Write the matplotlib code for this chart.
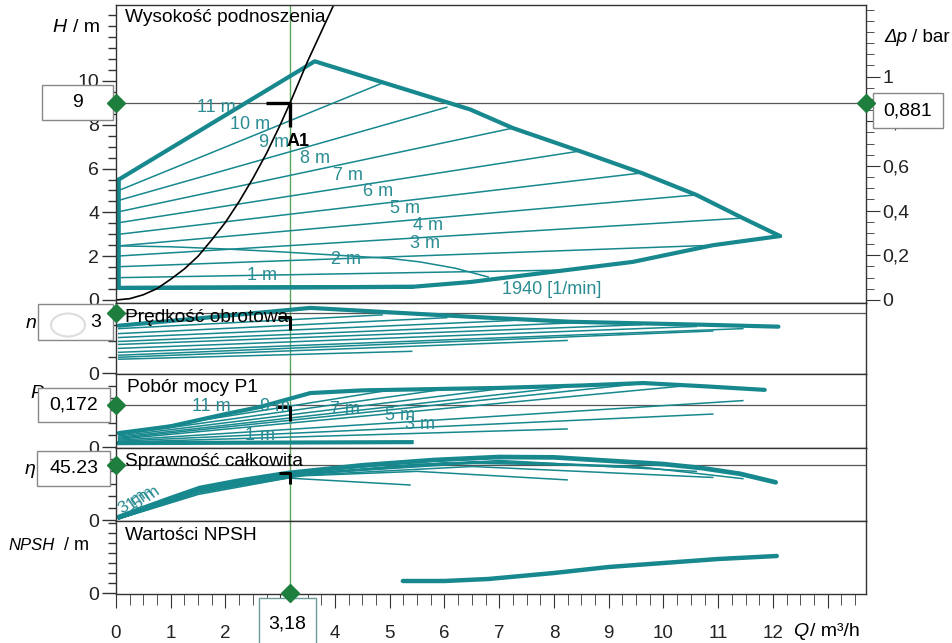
import matplotlib
matplotlib.use("Agg")
import matplotlib.pyplot as plt
import matplotlib.ticker as mticker
from matplotlib.lines import Line2D
from matplotlib.patches import Rectangle, Circle
from matplotlib.path import Path

plt.rcParams["font.family"] = ["Liberation Sans", "DejaVu Sans"]

W, H = 953, 643
TEAL = "#17888e"
LABEL_TEAL = "#2b8d93"
GREEN = "#5aa55a"
DIAMOND = "#1e7e3e"
FRAME = "#333333"
REF = "#555555"

# operating point A1
q_op = 3.18
h_op = 9
dp_op = 0.881
n_op = 8600
p1_op = 0.172
eta_op = 45.23

# --- head panel ---
q_max = [0.05, 3.63, 6.47, 7.25, 8.47, 9.6, 10.6, 11.45, 12.13]
h_max = [5.5, 10.9, 8.7, 7.85, 6.8, 5.8, 4.8, 3.74, 2.92]
q_low = [12.13, 10.9, 9.44, 8.24, 6.47, 5.4, 0.05, 0.05]
h_low = [2.92, 2.5, 1.74, 1.37, 0.82, 0.6, 0.55, 5.5]

speed_labels = ["10 m", "9 m", "8 m", "7 m", "6 m", "5 m", "4 m", "3 m", "2 m", "1 m"]
q_end = [4.86, 6.04, 7.25, 8.47, 9.6, 10.6, 11.45, 10.9, 8.24, 5.4]
h_start = [5.0, 4.55, 4.03, 3.53, 3.0, 2.47, 2.01, 1.52, 1.02, 0.55]
h_end = [9.9, 8.8, 7.85, 6.8, 5.8, 4.8, 3.74, 2.5, 1.37, 0.6]

q_nmin = [0.05, 1, 2, 3, 4, 5, 5.55, 6.2, 6.8]
h_nmin = [2.47, 2.43, 2.33, 2.2, 2.05, 1.9, 1.74, 1.45, 1.05]

sys_q = [0, 0.25, 0.5, 0.75, 1.0, 1.25, 1.5, 1.75, 2.0, 2.25, 2.5, 2.75, 3.0, 3.18, 3.5, 4.0]
sys_h = [0, 0.06, 0.24, 0.52, 0.95, 1.42, 2.0, 2.75, 3.55, 4.5, 5.55, 6.7, 8.0, 9.0, 10.9, 13.6]

h_label_text = ["11 m", "10 m", "9 m", "8 m", "7 m", "6 m", "5 m", "4 m", "3 m", "2 m", "1 m"]
h_label_q = [1.84, 2.45, 2.88, 3.63, 4.24, 4.79, 5.28, 5.7, 5.64, 4.2, 2.66]
h_label_h = [8.77, 8.0, 7.2, 6.47, 5.7, 4.94, 4.2, 3.4, 2.6, 1.83, 1.1]

# --- speed panel (1/min) ---
n_env_q = [0.05, 1.5, 3.55, 6.47, 8.3, 10.7, 12.1]
n_env = [6760, 7800, 9300, 8030, 7320, 6900, 6620]
n_start = [6340, 5630, 5070, 4510, 4080, 3520, 2960, 2540, 2250, 1970]
n_end = [8300, 7900, 7500, 7200, 6900, 6650, 6340, 6000, 4650, 3100]

# --- power panel (kW) ---
p_env_q = [0.05, 1.0, 2.0, 2.63, 3.55, 4.5, 7.0, 8.5, 9.63, 10.8, 11.85]
p_env = [0.057, 0.085, 0.135, 0.164, 0.221, 0.232, 0.242, 0.252, 0.262, 0.248, 0.234]
p_start = [0.055, 0.05, 0.045, 0.04, 0.036, 0.032, 0.028, 0.024, 0.02, 0.016]
p_end = [0.228, 0.238, 0.245, 0.252, 0.26, 0.255, 0.19, 0.135, 0.074, 0.02]
p_label_text = ["11 m", "9 m", "7 m", "5 m", "3 m", "1 m"]
p_label_q = [1.75, 2.9, 4.18, 5.19, 5.55, 2.63]
p_label_v = [0.164, 0.164, 0.152, 0.131, 0.094, 0.049]

# --- efficiency panel (%) ---
eta_env_q = [0.05, 0.5, 1.0, 1.53, 2.2, 3.14, 4.5, 5.8, 7.0, 8.0, 8.9, 10.0, 10.7, 11.4, 12.05]
eta_env = [2.5, 9.9, 18, 26.3, 32, 38.6, 45, 49.3, 51.8, 51.5, 49, 46, 42.7, 38, 31]
eta_lines_q = [
    [0.05, 1.5, 3.0, 4.86],
    [0.05, 1.5, 3.2, 6.04],
    [0.05, 1.5, 3.5, 5.5, 7.25],
    [0.05, 1.5, 3.5, 6.0, 8.47],
    [0.05, 1.5, 3.5, 6.5, 9.6],
    [0.05, 1.5, 3.5, 7.0, 10.6],
    [0.05, 1.5, 3.5, 7.0, 9.5, 11.45],
    [0.05, 1.5, 3.5, 6.5, 10.9],
    [0.05, 1.5, 3.2, 5.5, 8.24],
    [0.05, 1.5, 3.14, 5.37],
]
eta_lines_v = [
    [1, 24, 37, 45],
    [1, 24, 37, 47],
    [1, 24, 38, 46, 47],
    [1, 24, 38, 47, 45],
    [1, 24, 38, 48, 43],
    [1, 24, 38, 49, 40],
    [1, 24, 38, 48, 44, 34],
    [1, 23, 37, 44, 35],
    [1, 22, 36, 40, 33],
    [1, 21, 34.5, 28.8],
]

# --- NPSH panel (m) ---
npsh_q = [5.24, 6.0, 6.8, 8.0, 9.0, 10.0, 11.0, 12.07]
npsh = [1.2, 1.2, 1.4, 2.0, 2.6, 3.0, 3.4, 3.7]

q_ticks = list(range(0, 14))
q_ticklabels = [str(i) for i in range(0, 13)] + [""]


def px_rect(x0, y0, x1, y1):
    return [x0 / W, 1 - y1 / H, (x1 - x0) / W, (y1 - y0) / H]


def ftext(x, y, s, **kw):
    kw.setdefault("fontsize", 13)
    kw.setdefault("va", "center")
    fig.text(x / W, 1 - y / H, s, **kw)


def value_box(x0, y0, x1, y1, s, edge="#888888"):
    fig.add_artist(Rectangle((x0 / W, 1 - y1 / H), (x1 - x0) / W, (y1 - y0) / H,
                             transform=fig.transFigure, facecolor="white",
                             edgecolor=edge, lw=1, zorder=4))
    ftext((x0 + x1) / 2, (y0 + y1) / 2, s, ha="center", fontsize=14, zorder=5)


def diamond(ax, x, y):
    fig.add_artist(Line2D([x], [y], transform=ax.transData, marker="D", ms=9,
                          color=DIAMOND, zorder=6))


corner = Path([(-1, 0), (0, 0), (0, -1)], [Path.MOVETO, Path.LINETO, Path.LINETO])

fig = plt.figure(figsize=(W / 100, H / 100), dpi=100)
panels = [(5, 303), (303, 374), (374, 448), (448, 521), (521, 594)]
axes = [fig.add_axes(px_rect(116, t, 866, b)) for t, b in panels]
ax_h, ax_n, ax_p, ax_e, ax_s = axes

for ax in axes:
    ax.set_xlim(0, 13.7)
    for s in ax.spines.values():
        s.set_color(FRAME)
        s.set_linewidth(1)
    ax.tick_params(axis="x", which="both", bottom=False, labelbottom=False)
    ax.tick_params(axis="y", which="both", direction="out", colors=FRAME,
                   labelsize=14, pad=2, labelcolor="#222222")
    ax.tick_params(axis="y", which="major", length=10, width=1)
    ax.tick_params(axis="y", which="minor", length=6, width=1)
    ax.axvline(q_op, color=GREEN, lw=1, zorder=1)

ax_h.set_ylim(-0.137, 13.47)
ax_n.set_ylim(-140, 10000)
ax_p.set_ylim(-0.004, 0.299)
ax_e.set_ylim(-0.8, 59.2)
ax_s.set_ylim(-0.1, 7.2)

ax_h.set_yticks([0, 2, 4, 6, 8, 10])
ax_h.yaxis.set_minor_locator(mticker.MultipleLocator(0.5))
ax_n.set_yticks([0])
ax_n.yaxis.set_minor_locator(mticker.MultipleLocator(2300))
ax_p.set_yticks([0])
ax_p.yaxis.set_minor_locator(mticker.MultipleLocator(0.05))
ax_e.set_yticks([0])
ax_e.yaxis.set_minor_locator(mticker.MultipleLocator(10))
ax_s.set_yticks([0])
ax_s.yaxis.set_minor_locator(mticker.MultipleLocator(1))

ax_s.set_xticks(q_ticks)
ax_s.set_xticklabels(q_ticklabels)
ax_s.xaxis.set_minor_locator(mticker.MultipleLocator(0.25))
ax_s.tick_params(axis="x", which="both", bottom=True, labelbottom=True,
                 direction="out", colors=FRAME, labelsize=13.5, pad=12, labelcolor="#222222")
ax_s.tick_params(axis="x", which="major", length=10)
ax_s.tick_params(axis="x", which="minor", length=8)

# pressure axis on the right
ax_dp = ax_h.twinx()
ax_dp.set_ylim(-0.137 / 10.2, 13.47 / 10.2)
ax_dp.set_yticks([0, 0.2, 0.4, 0.6, 0.8, 1.0])
ax_dp.yaxis.set_minor_locator(mticker.MultipleLocator(0.05))
ax_dp.yaxis.set_major_formatter(mticker.FuncFormatter(lambda v, _: f"{v:g}".replace(".", ",")))
ax_dp.tick_params(axis="y", which="both", direction="out", colors=FRAME,
                  labelsize=14, pad=2, labelcolor="#222222")
ax_dp.tick_params(axis="y", which="major", length=10)
ax_dp.tick_params(axis="y", which="minor", length=6)
for s in ax_dp.spines.values():
    s.set_visible(False)

# head panel
ax_h.axhline(h_op, color=REF, lw=0.9, zorder=1)
for i in range(len(speed_labels)):
    lw = 3 if i == len(speed_labels) - 1 else 1.1
    ax_h.plot([0.05, q_end[i]], [h_start[i], h_end[i]], color=TEAL, lw=lw)
ax_h.plot(q_max, h_max, color=TEAL, lw=3, solid_capstyle="round")
ax_h.plot(q_low, h_low, color=TEAL, lw=3, solid_capstyle="round")
ax_h.plot(q_nmin, h_nmin, color=TEAL, lw=1.1)
ax_h.plot(sys_q, sys_h, color="black", lw=1.2)
for s, x, y in zip(h_label_text, h_label_q, h_label_h):
    ax_h.text(x, y, s, color=LABEL_TEAL, fontsize=13, ha="center", va="center")
ax_h.text(7.96, 0.46, "1940 [1/min]", color=LABEL_TEAL, fontsize=13, ha="center", va="center")
ax_h.plot([q_op], [h_op], marker=corner, ms=34, mew=2.4, color="black",
          fillstyle="none", solid_joinstyle="round")
ax_h.text(3.32, 7.25, "A1", fontsize=13, fontweight="bold", ha="center", va="center")

# speed panel
ax_n.axhline(n_op, color=REF, lw=0.9, zorder=1)
for i in range(len(n_start)):
    ax_n.plot([0.05, q_end[i]], [n_start[i], n_end[i]], color=TEAL, lw=1.1)
ax_n.plot(n_env_q, n_env, color=TEAL, lw=3, solid_capstyle="round")
ax_n.plot([q_op], [8000], marker=corner, ms=18, mew=2.2, color="black", fillstyle="none")

# power panel
ax_p.axhline(p1_op, color=REF, lw=0.9, zorder=1)
for i in range(len(p_start)):
    lw = 3 if i == len(p_start) - 1 else 1.1
    ax_p.plot([0.05, q_end[i]], [p_start[i], p_end[i]], color=TEAL, lw=lw)
ax_p.plot(p_env_q, p_env, color=TEAL, lw=3, solid_capstyle="round")
for s, x, y in zip(p_label_text, p_label_q, p_label_v):
    ax_p.text(x, y, s, color=LABEL_TEAL, fontsize=13, ha="center", va="center")
ax_p.plot([q_op], [0.165], marker=corner, ms=20, mew=2.2, color="black", fillstyle="none")

# efficiency panel
ax_e.axhline(eta_op, color=REF, lw=0.9, zorder=1)
for qs, vs in zip(eta_lines_q, eta_lines_v):
    ax_e.plot(qs, vs, color=TEAL, lw=1.1)
ax_e.plot(eta_env_q, eta_env, color=TEAL, lw=3.4, solid_capstyle="round")
for s, x, y in zip(["3 m", "1 m", "5 m"], [0.3, 0.45, 0.55], [15, 17, 18]):
    ax_e.text(x, y, s, color=LABEL_TEAL, fontsize=12.5, rotation=35, ha="center", va="center")
ax_e.plot([q_op], [39], marker=corner, ms=16, mew=2.2, color="black", fillstyle="none")

# NPSH panel
ax_s.plot(npsh_q, npsh, color=TEAL, lw=3.2, solid_capstyle="round")
ax_s.plot([q_op, q_op], [0, -5], color=GREEN, lw=1, clip_on=False, zorder=1)

# panel titles and axis names
ftext(125, 18, "Wysokość podnoszenia", fontsize=13.8)
ftext(125, 317, "Prędkość obrotowa", fontsize=13.8, zorder=3)
ftext(127, 387, "Pobór mocy P1", fontsize=13.8)
ftext(125, 462, "Sprawność całkowita", fontsize=13.8, zorder=3)
ftext(125, 535, "Wartości NPSH", fontsize=13.8)

ftext(52, 28, "H", style="italic", fontsize=14)
ftext(73, 28, "/ m", fontsize=14)
ftext(884, 38, "Δp", style="italic", fontsize=13.5)
ftext(912, 38, "/ bar", fontsize=13.5)
ftext(26, 323, "n", style="italic", fontsize=14)
ftext(30, 394, "P", style="italic", fontsize=14)
ftext(25, 470, "η", style="italic", fontsize=14)
ftext(8, 545, "NPSH", style="italic", fontsize=12)
ftext(64, 545, "/ m", fontsize=13)
ftext(793, 632, "Q", style="italic", fontsize=14)
ftext(810, 632, "/ m³/h", fontsize=14)

# value boxes
value_box(42, 85, 113, 120, "9")
value_box(873, 93, 943, 128, "0,881")
value_box(38, 304, 113, 340, "")
ftext(101, 322, "3", ha="right", fontsize=14, zorder=5)
fig.add_artist(Circle((68 / W, 1 - 325 / H), 17 / W, transform=fig.transFigure,
                      facecolor="white", edgecolor="#dddddd", lw=1.5, zorder=5))
value_box(38, 388, 110, 422, "0,172")
value_box(37, 451, 110, 486, "45.23")
value_box(259, 598, 316, 650, "3,18", edge="#6a9a9a")

diamond(ax_h, 0, h_op)
diamond(ax_dp, 13.7, dp_op)
diamond(ax_n, 0, n_op)
diamond(ax_p, 0, p1_op)
diamond(ax_e, 0, eta_op)
diamond(ax_s, q_op, 0)

fig.savefig("out.png", dpi=100, facecolor="white")
